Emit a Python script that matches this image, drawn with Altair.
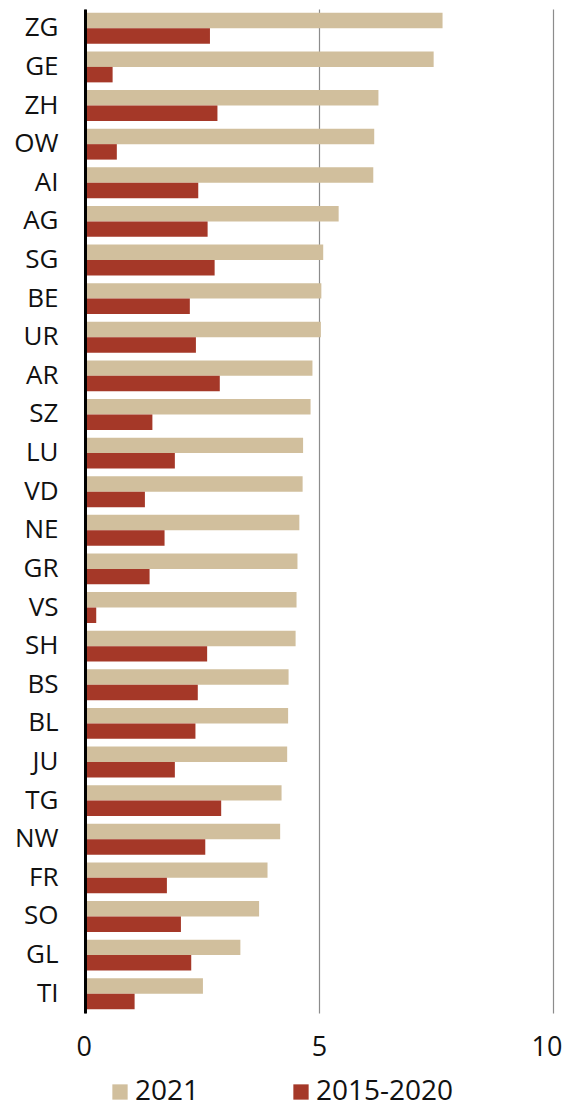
import altair as alt
import pandas as pd

cantons = ["ZG", "GE", "ZH", "OW", "AI", "AG", "SG", "BE", "UR", "AR", "SZ", "LU", "VD",
           "NE", "GR", "VS", "SH", "BS", "BL", "JU", "TG", "NW", "FR", "SO", "GL", "TI"]
v2021 = [7.64, 7.45, 6.27, 6.18, 6.16, 5.42, 5.09, 5.05, 5.04, 4.86, 4.82, 4.66, 4.65,
         4.58, 4.54, 4.52, 4.50, 4.35, 4.34, 4.32, 4.20, 4.17, 3.90, 3.72, 3.32, 2.52]
v2015_2020 = [2.67, 0.59, 2.83, 0.68, 2.42, 2.62, 2.77, 2.24, 2.37, 2.88, 1.44, 1.92, 1.28,
              1.70, 1.38, 0.24, 2.61, 2.41, 2.36, 1.92, 2.91, 2.57, 1.75, 2.05, 2.27, 1.06]
series = ["2021", "2015-2020"]
colors = ["#D1BF9D", "#A53828"]
x_ticks = [0, 5, 10]

rows = []
for c, a, b in zip(cantons, v2021, v2015_2020):
    rows.append({"canton": c, "series": series[0], "value": a})
    rows.append({"canton": c, "series": series[1], "value": b})
df = pd.DataFrame(rows)

FONT = "Open Sans"

chart = alt.Chart(df).mark_bar().encode(
    y=alt.Y("canton:N", sort=cantons, title=None,
            scale=alt.Scale(paddingInner=0.2, paddingOuter=0.1),
            axis=alt.Axis(ticks=False, domain=True, domainColor="#000000", domainWidth=3,
                          labelFontSize=26, labelColor="#111111", labelFont=FONT,
                          labelPadding=27, grid=False, zindex=1)),
    yOffset=alt.YOffset("series:N", sort=series,
                        scale=alt.Scale(paddingInner=0, paddingOuter=0)),
    x=alt.X("value:Q", title=None,
            scale=alt.Scale(domain=[0, 10], nice=False, zero=True),
            axis=alt.Axis(values=x_ticks, ticks=False, domain=False, grid=True,
                          gridColor="#8c8c8c", gridWidth=1.2,
                          labelFontSize=27, labelColor="#111111", labelFont=FONT,
                          labelPadding=21, labelFlush=True, labelFlushOffset=9,
                          zindex=0)),
    color=alt.Color("series:N", sort=series,
                    scale=alt.Scale(domain=series, range=colors),
                    legend=alt.Legend(title=None, orient="none", direction="horizontal",
                                      legendX=21, legendY=1069,
                                      symbolType="square", symbolSize=234,
                                      symbolStrokeWidth=0,
                                      labelFontSize=28, labelFont=FONT, labelColor="#111111",
                                      labelOffset=1, columnPadding=87)),
).properties(
    width=468,
    height=1004,
    autosize=alt.AutoSizeParams(type="none"),
    padding={"left": 77, "top": 1, "right": 10, "bottom": 96},
).configure_view(stroke=None)

chart.save("out.html", embed_options={"renderer": "svg", "actions": False})
